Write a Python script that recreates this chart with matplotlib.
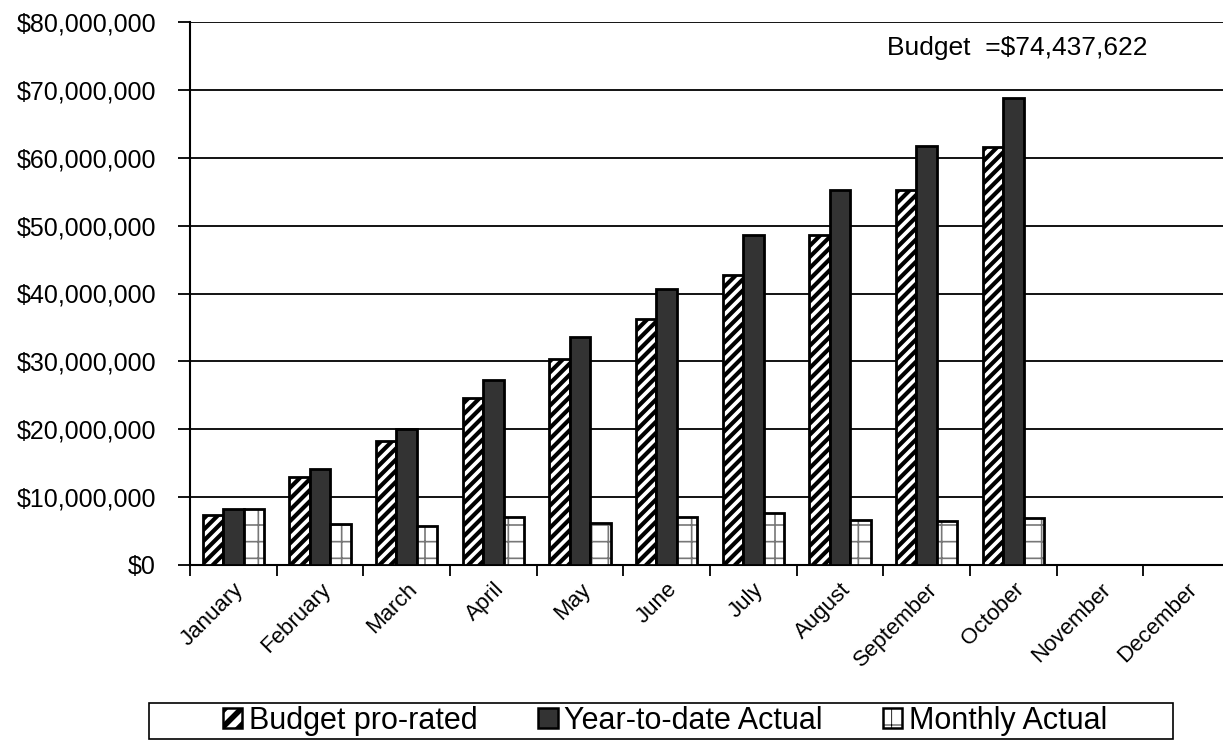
import numpy as np
import matplotlib
matplotlib.use("Agg")
import matplotlib.pyplot as plt
from matplotlib.patches import Rectangle
from matplotlib.ticker import FuncFormatter

plt.rcParams['font.family'] = ['Liberation Sans', 'DejaVu Sans']

# ---- datos ----
meses = ["January", "February", "March", "April", "May", "June", "July",
         "August", "September", "October", "November", "December"]
presupuesto = [7.3e6, 12.9e6, 18.2e6, 24.6e6, 30.4e6, 36.3e6, 42.7e6,
               48.6e6, 55.2e6, 61.6e6, np.nan, np.nan]
acumulado = [8.2e6, 14.2e6, 20.1e6, 27.3e6, 33.6e6, 40.6e6, 48.6e6,
             55.2e6, 61.8e6, 68.8e6, np.nan, np.nan]
mensual = [8.2e6, 6.0e6, 5.8e6, 7.1e6, 6.2e6, 7.0e6, 7.6e6,
           6.7e6, 6.5e6, 6.9e6, np.nan, np.nan]
nombres = ["Budget pro-rated", "Year-to-date Actual", "Monthly Actual"]
presupuesto_total = "Budget  =$74,437,622"

W, H = 1223, 741
fig = plt.figure(figsize=(W / 100, H / 100), dpi=100)
ax = fig.add_axes([190 / W, 1 - 565 / H, 1040 / W, 543 / H])

x = np.arange(len(meses))
ancho = 0.236

b1 = ax.bar(x - ancho, presupuesto, ancho, facecolor="white", edgecolor="black",
            linewidth=2, hatch="///", zorder=3)
b2 = ax.bar(x, acumulado, ancho, facecolor="#333333", edgecolor="black",
            linewidth=2, zorder=3)
# mensual: relleno punteado gris y despues el borde negro encima
b3_relleno = ax.bar(x + ancho, mensual, ancho, facecolor="white",
                    edgecolor="#777777", linewidth=0, hatch="+", zorder=3)
b3 = ax.bar(x + ancho, mensual, ancho, fill=False, edgecolor="black",
            linewidth=2, zorder=4)

for p in b1:
    p.set_hatch_linewidth(3.0)
for p in b3_relleno:
    p.set_hatch_linewidth(1.2)

ax.set_xlim(-0.5, 11.5)
ax.set_ylim(0, 80e6)
ax.set_yticks(np.arange(0, 80e6 + 1, 10e6))
ax.yaxis.set_major_formatter(FuncFormatter(lambda v, p: "${:,.0f}".format(v)))
ax.grid(axis="y", color="black", linewidth=1.3, zorder=0)

# ticks entre categorias, nombres en el centro
ax.set_xticks(np.arange(-0.5, 12, 1))
ax.set_xticklabels([])
ax.set_xticks(x, minor=True)
ax.set_xticklabels(meses, minor=True, rotation=45, ha="right",
                   rotation_mode="anchor", fontsize=16)
ax.tick_params(axis="x", which="minor", length=0, pad=10)
ax.tick_params(axis="x", which="major", length=8, width=1.3, direction="out")
ax.tick_params(axis="y", length=9, width=1.3, labelsize=18, pad=15.5)

for lado in ["top", "right"]:
    ax.spines[lado].set_visible(False)
ax.spines["left"].set_linewidth(1.5)
ax.spines["bottom"].set_linewidth(1.5)

fig.text(887 / W, 1 - 48 / H, presupuesto_total, fontsize=19,
         va="center", ha="left")

# leyenda abajo con marco propio
leg = fig.legend([b1, b2, b3], nombres, loc="center",
                 bbox_to_anchor=(665 / W, 1 - 721 / H), ncol=3,
                 fontsize=22, frameon=False,
                 handlelength=0.63, handleheight=0.63, handletextpad=0.2,
                 columnspacing=2.0, borderpad=0.0)
h1, h2, h3 = leg.legend_handles
h1.set_hatch("//")
h1.set_hatch_linewidth(4.0)
h3.set_hatch("+")
h3.set_hatch_linewidth(0.6)
h3.set_facecolor("white")
h3.set_fill(True)
for h in leg.legend_handles:
    h.set_linewidth(1.8)
fig.patches.append(Rectangle((149 / W, 1 - 739 / H), 1024 / W, 36 / H,
                             transform=fig.transFigure, fill=False,
                             edgecolor="black", linewidth=1.2))

fig.savefig("out.png", dpi=100)
